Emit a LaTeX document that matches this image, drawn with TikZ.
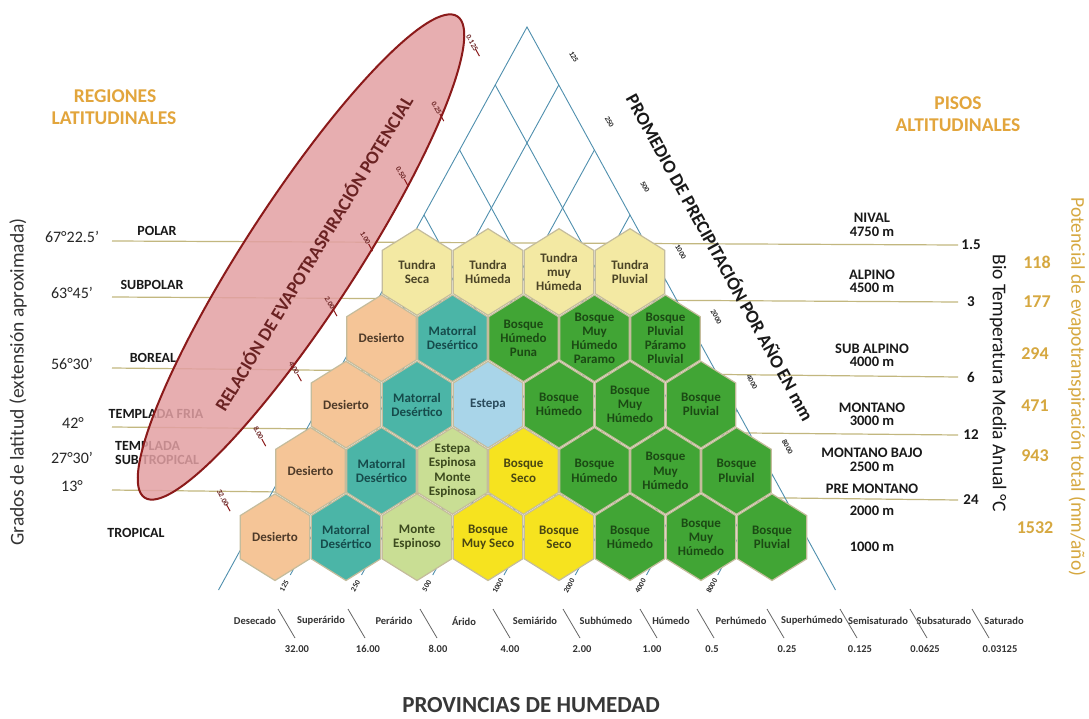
\documentclass[tikz,border=0pt]{standalone}
\usepackage{fontspec}
\setmainfont{Carlito}
\usetikzlibrary{calc,shapes.geometric}

\definecolor{beltc}{HTML}{C2B77F}
\definecolor{gridc}{HTML}{4F8FAE}
\definecolor{hexline}{HTML}{C4BC9C}
\definecolor{tundra}{HTML}{F3E9A3}
\definecolor{tundratx}{HTML}{4B4426}
\definecolor{desert}{HTML}{F5C597}
\definecolor{deserttx}{HTML}{4E3A28}
\definecolor{mator}{HTML}{4BB5A7}
\definecolor{matortx}{HTML}{164B4B}
\definecolor{estepa}{HTML}{A9D5E9}
\definecolor{estepatx}{HTML}{2A4B5C}
\definecolor{espino}{HTML}{C9DE94}
\definecolor{espinotx}{HTML}{3C4A1E}
\definecolor{seco}{HTML}{F6E31F}
\definecolor{secotx}{HTML}{4A4712}
\definecolor{bosque}{HTML}{41A535}
\definecolor{bosquetx}{HTML}{1B4A14}
\definecolor{gold}{HTML}{E2A53C}
\definecolor{goldnum}{HTML}{D6A840}
\definecolor{ellfill}{HTML}{E3A0A3}
\definecolor{ellline}{HTML}{8B1A1A}
\definecolor{elltext}{HTML}{6A2222}
\definecolor{axistx}{HTML}{333333}

\newcommand\setfs[2]{\fontsize{#1}{#2}\selectfont}

% one life-zone hexagon: name, x, y, fill, text colour, label
\newcommand\hexcell[6]{%
  \filldraw[fill=#4, hexedge] (#2,#3) ++(0,-43.3) -- ++(34.7,21.65) -- ++(0,43.3)
     -- ++(-34.7,21.65) -- ++(-34.7,-21.65) -- ++(0,-43.3) -- cycle;
  \node[hextext, text=#5] (#1) at (#2,#3) {#6};
}

\tikzset{
  belt/.style={draw=beltc, line width=1.2pt},
  gridl/.style={draw=gridc, line width=0.9pt},
  hexedge/.style={draw=hexline, line width=1.2pt},
  hextext/.style={font=\setfs{13}{14.2}\bfseries, align=center, inner sep=0pt},
  latlab/.style={font=\setfs{16}{18}, text=black!85, inner sep=0pt},
  reglab/.style={font=\setfs{14}{16}\bfseries, text=black!90, inner sep=0pt},
  titlelab/.style={font=\setfs{19.5}{22}\bfseries, text=gold, inner sep=0pt},
  altlab/.style={font=\setfs{14.5}{16}\bfseries, text=black!90, inner sep=0pt},
  tempnum/.style={font=\setfs{15}{17}\bfseries, text=black!90, inner sep=0pt},
  petnum/.style={font=\setfs{18}{20}\bfseries, text=goldnum, inner sep=0pt},
  vlab/.style={font=\setfs{19.5}{22}, inner sep=0pt},
  ticklab/.style={font=\setfs{7.5}{8}\bfseries, text=black!85, inner sep=0pt},
  elllab/.style={font=\setfs{7.5}{8}\bfseries, text=elltext, inner sep=0pt},
  elltick/.style={draw=ellline, line width=1pt},
  axlab/.style={font=\setfs{10.5}{12}\bfseries, text=axistx, inner sep=0pt},
  sepline/.style={draw=black!60, line width=0.8pt},
}

\begin{document}
\begin{tikzpicture}[x=1pt,y=-1pt]
\useasboundingbox (0,0) rectangle (1089,719);
\fill[white] (0,0) rectangle (1089,719);

% ---- temperature belts (horizontal guide lines)
\foreach \yl/\yr [count=\i] in {241/245, 297/302, 368/377, 427/435, 490/500} {
  \coordinate (bl\i) at (112,\yl);
  \coordinate (br\i) at (958,\yr);
  \draw[belt] (bl\i) -- (br\i);
}

% ---- triangle and log grid
\coordinate (apex) at (527,27);
\coordinate (leftend) at (218.5,590);
\coordinate (rightend) at (835.5,590);
\draw[gridl] (leftend) -- (apex) -- (rightend);

% precipitation lines (parallel to the left side)
\foreach \k/\lab in {1/125,2/250,3/500,4/1000,5/2000,6/4000,7/8000} {
  \pgfmathsetmacro\yk{85+65*(\k-1)}
  \pgfmathsetmacro\xk{527+0.548*(\yk-27)}
  \pgfmathsetmacro\xb{\xk-0.548*(575-\yk)}
  \coordinate (pr\k) at (\xk,\yk);
  \coordinate (pb\k) at (\xb,575);
  \draw[gridl] (pr\k) -- (pb\k);
  \node[ticklab, rotate=-61] (prl\k) at ($(pr\k)+(15,-28)$) {\lab};
  \node[ticklab, rotate=61] (pbl\k) at ($(pb\k)+(-6,11)$) {\lab};
}

% evapotranspiration ratio lines (parallel to the right side)
\foreach \k in {1,...,8} {
  \pgfmathsetmacro\yk{85+65*(\k-1)}
  \pgfmathsetmacro\xk{527-0.548*(\yk-27)}
  \pgfmathsetmacro\xe{\xk+0.548*(560-\yk)}
  \coordinate (pl\k) at (\xk,\yk);
  \coordinate (pe\k) at (\xe,560);
  \draw[gridl] (pl\k) -- (pe\k);
}

% ---- left side: latitude and regions
\node[latlab] (lat1) at (72,237) {67°22.5’};
\node[latlab] (lat2) at (72,293) {63°45’};
\node[latlab] (lat3) at (72,364) {56°30’};
\node[latlab] (lat4) at (73,423) {42°};
\node[latlab] (lat5) at (72,458) {27°30’};
\node[latlab] (lat6) at (72,486) {13°};

\node[reglab] (polar) at (157,231) {POLAR};
\node[reglab] (subpolar) at (152,285) {SUBPOLAR};
\node[reglab] (boreal) at (153,358) {BOREAL};
\node[reglab] (tfria) at (156,414) {TEMPLADA FRIA};
\node[reglab, anchor=west] (tsub1) at (115,446) {TEMPLADA};
\node[reglab, anchor=west] (tsub2) at (115,460) {SUB TROPICAL};
\node[reglab] (tropical) at (136,533) {TROPICAL};

\node[vlab, text=black!80, rotate=90] (gradlat) at (18,382) {Grados de latitud (extensión aproximada)};

\node[titlelab] (reg1) at (115,96) {REGIONES};
\node[titlelab] (reg2) at (114,118) {LATITUDINALES};
\node[titlelab] (pis1) at (958,103) {PISOS};
\node[titlelab] (pis2) at (958,125) {ALTITUDINALES};

% ---- potential evapotranspiration ellipse
\node[ellipse, draw=ellline, line width=2pt, fill=ellfill, fill opacity=0.85,
      minimum width=574pt, minimum height=112pt, inner sep=0pt, rotate=57] (evap) at (301,257) {};
\node[font=\setfs{18.5}{20}\bfseries, text=elltext, rotate=58.8, inner sep=0pt] (evaptx) at (313,253)
  {RELACIÓN DE EVAPOTRASPIRACIÓN POTENCIAL};
\foreach \k/\lab in {1/0.125,2/0.25,3/0.50,4/1.00,5/2.00,6/4.00,7/8.00,8/32.00} {
  \draw[elltick] ($(pl\k)+(-15.8,-28.9)$) -- ($(pl\k)+(-19.7,-36)$);
  \node[elllab, rotate=-61] (el\k) at ($(pl\k)+(-23,-42)$) {\lab};
}

% ---- life-zone hexagons
\hexcell{h11}{417}{272}{tundra}{tundratx}{Tundra\\Seca}
\hexcell{h12}{488}{272}{tundra}{tundratx}{Tundra\\Húmeda}
\hexcell{h13}{559}{272}{tundra}{tundratx}{Tundra\\muy\\Húmeda}
\hexcell{h14}{630}{272}{tundra}{tundratx}{Tundra\\Pluvial}

\hexcell{h21}{381.5}{338.3}{desert}{deserttx}{Desierto}
\hexcell{h22}{452.5}{338.3}{mator}{matortx}{Matorral\\Desértico}
\hexcell{h23}{523.5}{338.3}{bosque}{bosquetx}{Bosque\\Húmedo\\Puna}
\hexcell{h24}{594.5}{338.3}{bosque}{bosquetx}{Bosque\\Muy\\Húmedo\\Paramo}
\hexcell{h25}{665.5}{338.3}{bosque}{bosquetx}{Bosque\\Pluvial\\Páramo\\Pluvial}

\hexcell{h31}{346}{404.6}{desert}{deserttx}{Desierto}
\hexcell{h32}{417}{404.6}{mator}{matortx}{Matorral\\Desértico}
\hexcell{h33}{488}{404.6}{estepa}{estepatx}{Estepa}
\hexcell{h34}{559}{404.6}{bosque}{bosquetx}{Bosque\\Húmedo}
\hexcell{h35}{630}{404.6}{bosque}{bosquetx}{Bosque\\Muy\\Húmedo}
\hexcell{h36}{701}{404.6}{bosque}{bosquetx}{Bosque\\Pluvial}

\hexcell{h41}{310.5}{470.9}{desert}{deserttx}{Desierto}
\hexcell{h42}{381.5}{470.9}{mator}{matortx}{Matorral\\Desértico}
\hexcell{h43}{452.5}{470.9}{espino}{espinotx}{Estepa\\Espinosa\\Monte\\Espinosa}
\hexcell{h44}{523.5}{470.9}{seco}{secotx}{Bosque\\Seco}
\hexcell{h45}{594.5}{470.9}{bosque}{bosquetx}{Bosque\\Húmedo}
\hexcell{h46}{665.5}{470.9}{bosque}{bosquetx}{Bosque\\Muy\\Húmedo}
\hexcell{h47}{736.5}{470.9}{bosque}{bosquetx}{Bosque\\Pluvial}

\hexcell{h51}{275}{537.2}{desert}{deserttx}{Desierto}
\hexcell{h52}{346}{537.2}{mator}{matortx}{Matorral\\Desértico}
\hexcell{h53}{417}{537.2}{espino}{espinotx}{Monte\\Espinoso}
\hexcell{h54}{488}{537.2}{seco}{secotx}{Bosque\\Muy Seco}
\hexcell{h55}{559}{537.2}{seco}{secotx}{Bosque\\Seco}
\hexcell{h56}{630}{537.2}{bosque}{bosquetx}{Bosque\\Húmedo}
\hexcell{h57}{701}{537.2}{bosque}{bosquetx}{Bosque\\Muy\\Húmedo}
\hexcell{h58}{772}{537.2}{bosque}{bosquetx}{Bosque\\Pluvial}

% ---- precipitation axis title
\node[font=\setfs{18.5}{20}\bfseries, text=black!90, rotate=-61.2, inner sep=0pt] (prectx) at (721,257)
  {PROMEDIO DE PRECIPITACIÓN POR AÑO EN mm};

% ---- right side: altitudinal belts and temperatures
\node[altlab] (alt1a) at (872,218) {NIVAL};
\node[altlab] (alt1b) at (872,232) {4750 m};
\node[altlab] (alt2a) at (872,275) {ALPINO};
\node[altlab] (alt2b) at (872,288) {4500 m};
\node[altlab] (alt3a) at (872,349) {SUB ALPINO};
\node[altlab] (alt3b) at (872,362) {4000 m};
\node[altlab] (alt4a) at (872,408) {MONTANO};
\node[altlab] (alt4b) at (872,421) {3000 m};
\node[altlab] (alt5a) at (872,453) {MONTANO BAJO};
\node[altlab] (alt5b) at (872,467) {2500 m};
\node[altlab] (alt6a) at (872,489) {PRE MONTANO};
\node[altlab] (alt6b) at (872,511) {2000 m};
\node[altlab] (alt7) at (872,547) {1000 m};

\node[tempnum] (t1) at (971,245) {1.5};
\node[tempnum] (t2) at (971,302) {3};
\node[tempnum] (t3) at (971,377) {6};
\node[tempnum] (t4) at (971,435) {12};
\node[tempnum] (t5) at (971,500) {24};

\node[vlab, text=black!90, rotate=-90] (biotemp) at (998,383) {Bio Temperatura Media Anual °C};

\node[petnum] (e1) at (1037,262) {118};
\node[petnum] (e2) at (1037,302) {177};
\node[petnum] (e3) at (1035,354) {294};
\node[petnum] (e4) at (1035,406) {471};
\node[petnum] (e5) at (1035,456) {943};
\node[petnum] (e6) at (1035,528) {1532};

\node[vlab, text=goldnum, rotate=-90] (pettot) at (1077,387) {Potencial de evapotranspiración total (mm/año)};

% ---- humidity provinces along the base
\foreach \x/\t [count=\i] in {255/Desecado, 321/Superárido, 394/Perárido, 464/Árido, 535/Semiárido,
    606/Subhúmedo, 671/Húmedo, 741/Perhúmedo, 812/Superhúmedo, 878/Semisaturado, 944/Subsaturado, 1004/Saturado}
  \node[axlab] (cat\i) at (\x,621) {\t};
\foreach \x [count=\i] in {278,348,420,493,563,640,697,767,840,910,972} {
  \coordinate (st\i) at (\x,609);
  \coordinate (sb\i) at (\x+17,638);
  \draw[sepline] (st\i) -- (sb\i);
}
\foreach \x/\t [count=\i] in {297/32.00, 368/16.00, 438/8.00, 510/4.00, 582/2.00, 652/1.00,
    712/0.5, 787/0.25, 860/0.125, 925/0.0625, 1000/0.03125}
  \node[axlab] (ratio\i) at (\x,649) {\t};

\node[font=\setfs{23}{26}\bfseries, text=black!78, inner sep=0pt] (provtitle) at (531,705) {PROVINCIAS DE HUMEDAD};

\end{tikzpicture}
\end{document}
